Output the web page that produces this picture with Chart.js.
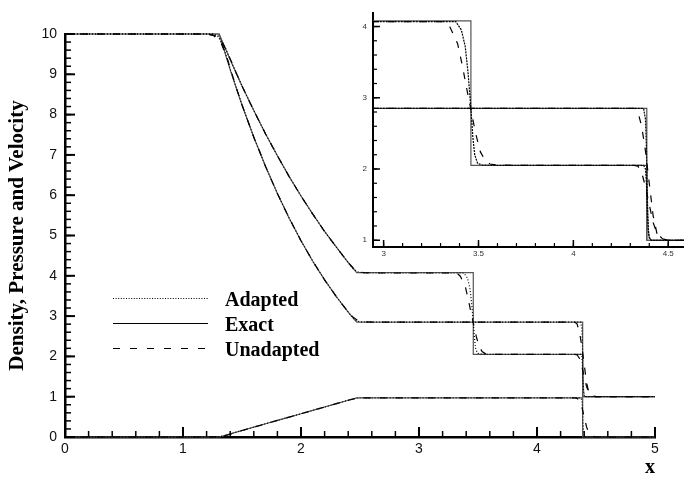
<!DOCTYPE html>
<html>
<head>
<meta charset="utf-8">
<script src="https://cdn.jsdelivr.net/npm/chart.js@4.4.1/dist/chart.umd.min.js"></script>
<style>
  html, body { margin: 0; padding: 0; background: #fff; }
  #wrap { position: relative; width: 684px; height: 482px; overflow: hidden; }
  #mainChart { position: absolute; left: 0; top: 0; }
  #insetChart { position: absolute; left: 340px; top: 0; }
</style>
</head>
<body>
<div id="wrap">
  <canvas id="mainChart" width="684" height="482"></canvas>
  <canvas id="insetChart" width="344" height="262"></canvas>
</div>
<script>
// 厳密解 (Exact)
const exactX        = [0, 1.307, 1.4, 1.5, 1.6, 1.7, 1.8, 1.9, 2.0, 2.1, 2.2, 2.3, 2.4, 2.472, 3.46, 3.46, 4.387, 4.387, 5];
const exactDensity  = [10, 10, 9.36, 8.71, 8.10, 7.52, 6.98, 6.46, 5.98, 5.53, 5.10, 4.71, 4.33, 4.08, 4.08, 2.05, 2.05, 1, 1];
const exactPressure = [10, 10, 9.11, 8.24, 7.44, 6.71, 6.04, 5.43, 4.87, 4.36, 3.90, 3.48, 3.10, 2.85, 2.85, 2.85, 2.85, 1, 1];
const exactVelocity = [0, 0, 0.078, 0.161, 0.244, 0.328, 0.411, 0.494, 0.578, 0.661, 0.744, 0.828, 0.911, 0.971, 0.971, 0.971, 0.971, 0, 0];

// 適応格子 (Adapted)
const adaptedX        = [0, 1.25, 1.3, 1.35, 1.4, 1.5, 1.6, 1.7, 1.8, 1.9, 2.0, 2.1, 2.2, 2.3, 2.4, 2.44, 2.48, 2.52, 2.6, 3.0, 3.38, 3.41, 3.43, 3.445, 3.46, 3.47, 3.48, 3.495, 3.52, 3.6, 4.0, 4.37, 4.38, 4.385, 4.39, 4.395, 4.4, 4.41, 4.45, 5];
const adaptedDensity  = [10, 10, 9.95, 9.72, 9.37, 8.71, 8.10, 7.52, 6.98, 6.46, 5.98, 5.53, 5.10, 4.71, 4.33, 4.18, 4.10, 4.075, 4.07, 4.07, 4.07, 3.95, 3.72, 3.35, 2.85, 2.45, 2.2, 2.08, 2.055, 2.05, 2.05, 2.05, 2.0, 1.8, 1.4, 1.12, 1.03, 1, 1, 1];
const adaptedPressure = [10, 10, 9.93, 9.62, 9.13, 8.24, 7.44, 6.71, 6.04, 5.43, 4.87, 4.36, 3.90, 3.48, 3.10, 2.95, 2.87, 2.855, 2.85, 2.85, 2.85, 2.85, 2.85, 2.85, 2.85, 2.85, 2.85, 2.85, 2.85, 2.85, 2.85, 2.85, 2.7, 2.3, 1.6, 1.15, 1.04, 1, 1, 1];
const adaptedVelocity = [0, 0, 0.005, 0.03, 0.075, 0.161, 0.244, 0.328, 0.411, 0.494, 0.578, 0.661, 0.744, 0.828, 0.911, 0.945, 0.965, 0.97, 0.97, 0.97, 0.97, 0.97, 0.97, 0.97, 0.97, 0.97, 0.97, 0.97, 0.97, 0.97, 0.97, 0.97, 0.92, 0.7, 0.35, 0.1, 0.02, 0, 0, 0];

// 非適応格子 (Unadapted)
const unadaptedX        = [0, 1.2, 1.26, 1.32, 1.38, 1.45, 1.5, 1.6, 1.7, 1.8, 1.9, 2.0, 2.1, 2.2, 2.3, 2.4, 2.44, 2.48, 2.53, 2.6, 3.0, 3.32, 3.35, 3.39, 3.415, 3.44, 3.46, 3.485, 3.51, 3.535, 3.56, 3.6, 3.7, 4.0, 4.32, 4.34, 4.36, 4.38, 4.4, 4.42, 4.44, 4.47, 4.5, 5];
const unadaptedDensity  = [10, 10, 9.97, 9.85, 9.52, 9.04, 8.71, 8.10, 7.52, 6.98, 6.46, 5.98, 5.53, 5.10, 4.71, 4.33, 4.2, 4.11, 4.08, 4.07, 4.07, 4.07, 3.99, 3.76, 3.45, 3.1, 2.83, 2.5, 2.24, 2.12, 2.07, 2.055, 2.05, 2.05, 2.05, 2.04, 1.95, 1.75, 1.5, 1.25, 1.1, 1.02, 1, 1];
const unadaptedPressure = [10, 10, 9.96, 9.8, 9.35, 8.68, 8.24, 7.44, 6.71, 6.04, 5.43, 4.87, 4.36, 3.90, 3.48, 3.10, 2.98, 2.89, 2.86, 2.85, 2.85, 2.85, 2.85, 2.85, 2.85, 2.85, 2.85, 2.85, 2.85, 2.85, 2.85, 2.85, 2.85, 2.85, 2.85, 2.8, 2.6, 2.25, 1.8, 1.35, 1.1, 1.02, 1, 1];
const unadaptedVelocity = [0, 0, 0.002, 0.015, 0.05, 0.11, 0.161, 0.244, 0.328, 0.411, 0.494, 0.578, 0.661, 0.744, 0.828, 0.911, 0.94, 0.962, 0.97, 0.97, 0.97, 0.97, 0.97, 0.97, 0.97, 0.97, 0.97, 0.97, 0.97, 0.97, 0.97, 0.97, 0.97, 0.97, 0.97, 0.96, 0.9, 0.75, 0.5, 0.25, 0.1, 0.02, 0, 0];

// 目盛り
const mainXTicks  = [0, 1, 2, 3, 4, 5];
const mainYTicks  = [0, 1, 2, 3, 4, 5, 6, 7, 8, 9, 10];
const insetXTicks = [3, 3.5, 4, 4.5];
const insetYTicks = [1, 2, 3, 4];
const legendLabels = ['Adapted', 'Exact', 'Unadapted'];

const pts = (xs, ys) => xs.map((x, i) => ({ x, y: ys[i] }));

const EXACT_COLOR = '#555';
const DOT = [1, 2];
const DASH = [7, 9];

// 内向き目盛り
const innerTicks = {
  id: 'innerTicks',
  afterDraw(chart, args, o) {
    const { ctx, chartArea: a, scales } = chart;
    ctx.save();
    ctx.strokeStyle = '#000';
    const mark = (scale, value, len, w) => {
      const p = scale.getPixelForValue(value);
      ctx.lineWidth = w;
      ctx.beginPath();
      if (scale.axis === 'x') { ctx.moveTo(p, a.bottom); ctx.lineTo(p, a.bottom - len); }
      else { ctx.moveTo(a.left, p); ctx.lineTo(a.left + len, p); }
      ctx.stroke();
    };
    [['x', o.xMinor], ['y', o.yMinor]].forEach(([k, step]) => {
      const s = scales[k];
      for (let i = Math.ceil(s.min / step - 1e-6); i * step <= s.max + 1e-6; i++) {
        mark(s, i * step, o.minorLen, o.minorWidth);
      }
      s.ticks.forEach(t => mark(s, t.value, o.majorLen, o.majorWidth));
    });
    ctx.restore();
  }
};

// 凡例
const lineLegend = {
  id: 'lineLegend',
  afterDraw(chart) {
    const { ctx } = chart;
    const styles = [[1, 1.6], [], [7, 10]];
    ctx.save();
    ctx.font = 'bold 20px "Liberation Serif", "Times New Roman", serif';
    ctx.fillStyle = '#000';
    ctx.strokeStyle = '#000';
    ctx.lineWidth = 1.2;
    legendLabels.forEach((label, i) => {
      const y = 298 + i * 25;
      ctx.setLineDash(styles[i]);
      ctx.beginPath();
      ctx.moveTo(113, y + 0.5);
      ctx.lineTo(208, y + 0.5);
      ctx.stroke();
      ctx.fillText(label, 225, y + 7.5);
    });
    ctx.restore();
  }
};

function lineSet(data, kind, inset) {
  const base = { data, showLine: true, pointRadius: 0, fill: false, borderColor: '#000', borderWidth: 1.2 };
  if (!inset) base.clip = 4;
  if (kind === 'exact') return { ...base, borderColor: EXACT_COLOR, borderWidth: 1.2 };
  if (kind === 'adapted') return { ...base, borderDash: inset ? [2, 1] : DOT };
  return { ...base, borderDash: DASH };
}

const tickFont = { family: "'Liberation Sans', Arial, sans-serif", size: 14 };

new Chart(document.getElementById('mainChart'), {
  type: 'scatter',
  data: {
    datasets: [
      lineSet(pts(unadaptedX, unadaptedDensity), 'unadapted'),
      lineSet(pts(unadaptedX, unadaptedPressure), 'unadapted'),
      lineSet(pts(unadaptedX, unadaptedVelocity), 'unadapted'),
      lineSet(pts(adaptedX, adaptedDensity), 'adapted'),
      lineSet(pts(adaptedX, adaptedPressure), 'adapted'),
      lineSet(pts(adaptedX, adaptedVelocity), 'adapted'),
      lineSet(pts(exactX, exactDensity), 'exact'),
      lineSet(pts(exactX, exactPressure), 'exact'),
      lineSet(pts(exactX, exactVelocity), 'exact')
    ]
  },
  options: {
    responsive: false,
    animation: false,
    layout: { padding: { top: 34, right: 29, bottom: 0, left: 0 } },
    plugins: {
      legend: { display: false },
      tooltip: { enabled: false },
      innerTicks: { xMinor: 0.2, yMinor: 0.2, majorLen: 10, minorLen: 6, majorWidth: 2, minorWidth: 1.5 }
    },
    scales: {
      x: {
        type: 'linear', min: 0, max: 5,
        afterBuildTicks: s => { s.ticks = mainXTicks.map(v => ({ value: v })); },
        afterFit: s => { s.height = 45; },
        grid: { display: false, drawTicks: false },
        border: { display: true, color: '#000', width: 2.5 },
        ticks: { font: tickFont, color: '#111', padding: 4, maxRotation: 0, callback: v => String(v) },
        title: {
          display: true, text: 'x', align: 'end', color: '#000',
          font: { family: "'Liberation Serif', 'Times New Roman', serif", size: 20, weight: 'bold', lineHeight: 1 },
          padding: { top: 0, bottom: 4 }
        }
      },
      y: {
        type: 'linear', min: 0, max: 10,
        afterBuildTicks: s => { s.ticks = mainYTicks.map(v => ({ value: v })); },
        afterFit: s => { s.width = 65; },
        grid: { display: false, drawTicks: false },
        border: { display: true, color: '#000', width: 2.5 },
        ticks: { font: tickFont, color: '#111', padding: 8, callback: v => String(v) },
        title: {
          display: true, text: 'Density, Pressure and Velocity', color: '#000',
          font: { family: "'Liberation Serif', 'Times New Roman', serif", size: 21, weight: 'bold', lineHeight: 1 },
          padding: { top: 7.5, bottom: 0 }
        }
      }
    }
  },
  plugins: [innerTicks, lineLegend]
});

const insetFont = { family: "'Liberation Sans', Arial, sans-serif", size: 8 };

new Chart(document.getElementById('insetChart'), {
  type: 'scatter',
  data: {
    datasets: [
      lineSet(pts(unadaptedX, unadaptedDensity), 'unadapted', true),
      lineSet(pts(unadaptedX, unadaptedPressure), 'unadapted', true),
      lineSet(pts(adaptedX, adaptedDensity), 'adapted', true),
      lineSet(pts(adaptedX, adaptedPressure), 'adapted', true),
      lineSet(pts(exactX, exactDensity), 'exact', true),
      lineSet(pts(exactX, exactPressure), 'exact', true)
    ]
  },
  options: {
    responsive: false,
    animation: false,
    layout: { padding: { top: 13, right: 0, bottom: 0, left: 0 } },
    plugins: {
      legend: { display: false },
      tooltip: { enabled: false },
      innerTicks: { xMinor: 0.1, yMinor: 0.2, majorLen: 7, minorLen: 4, majorWidth: 1.5, minorWidth: 1.2 }
    },
    scales: {
      x: {
        type: 'linear', min: 2.944, max: 4.583,
        afterBuildTicks: s => { s.ticks = insetXTicks.map(v => ({ value: v })); },
        afterFit: s => { s.height = 15; },
        grid: { display: false, drawTicks: false },
        border: { display: true, color: '#000', width: 2 },
        ticks: { font: insetFont, color: '#333', padding: 2, maxRotation: 0, callback: v => String(v) }
      },
      y: {
        type: 'linear', min: 0.905, max: 4.19,
        afterBuildTicks: s => { s.ticks = insetYTicks.map(v => ({ value: v })); },
        afterFit: s => { s.width = 33; },
        grid: { display: false, drawTicks: false },
        border: { display: true, color: '#000', width: 2 },
        ticks: { font: insetFont, color: '#333', padding: 6, callback: v => String(v) }
      }
    }
  },
  plugins: [innerTicks]
});
</script>
</body>
</html>
